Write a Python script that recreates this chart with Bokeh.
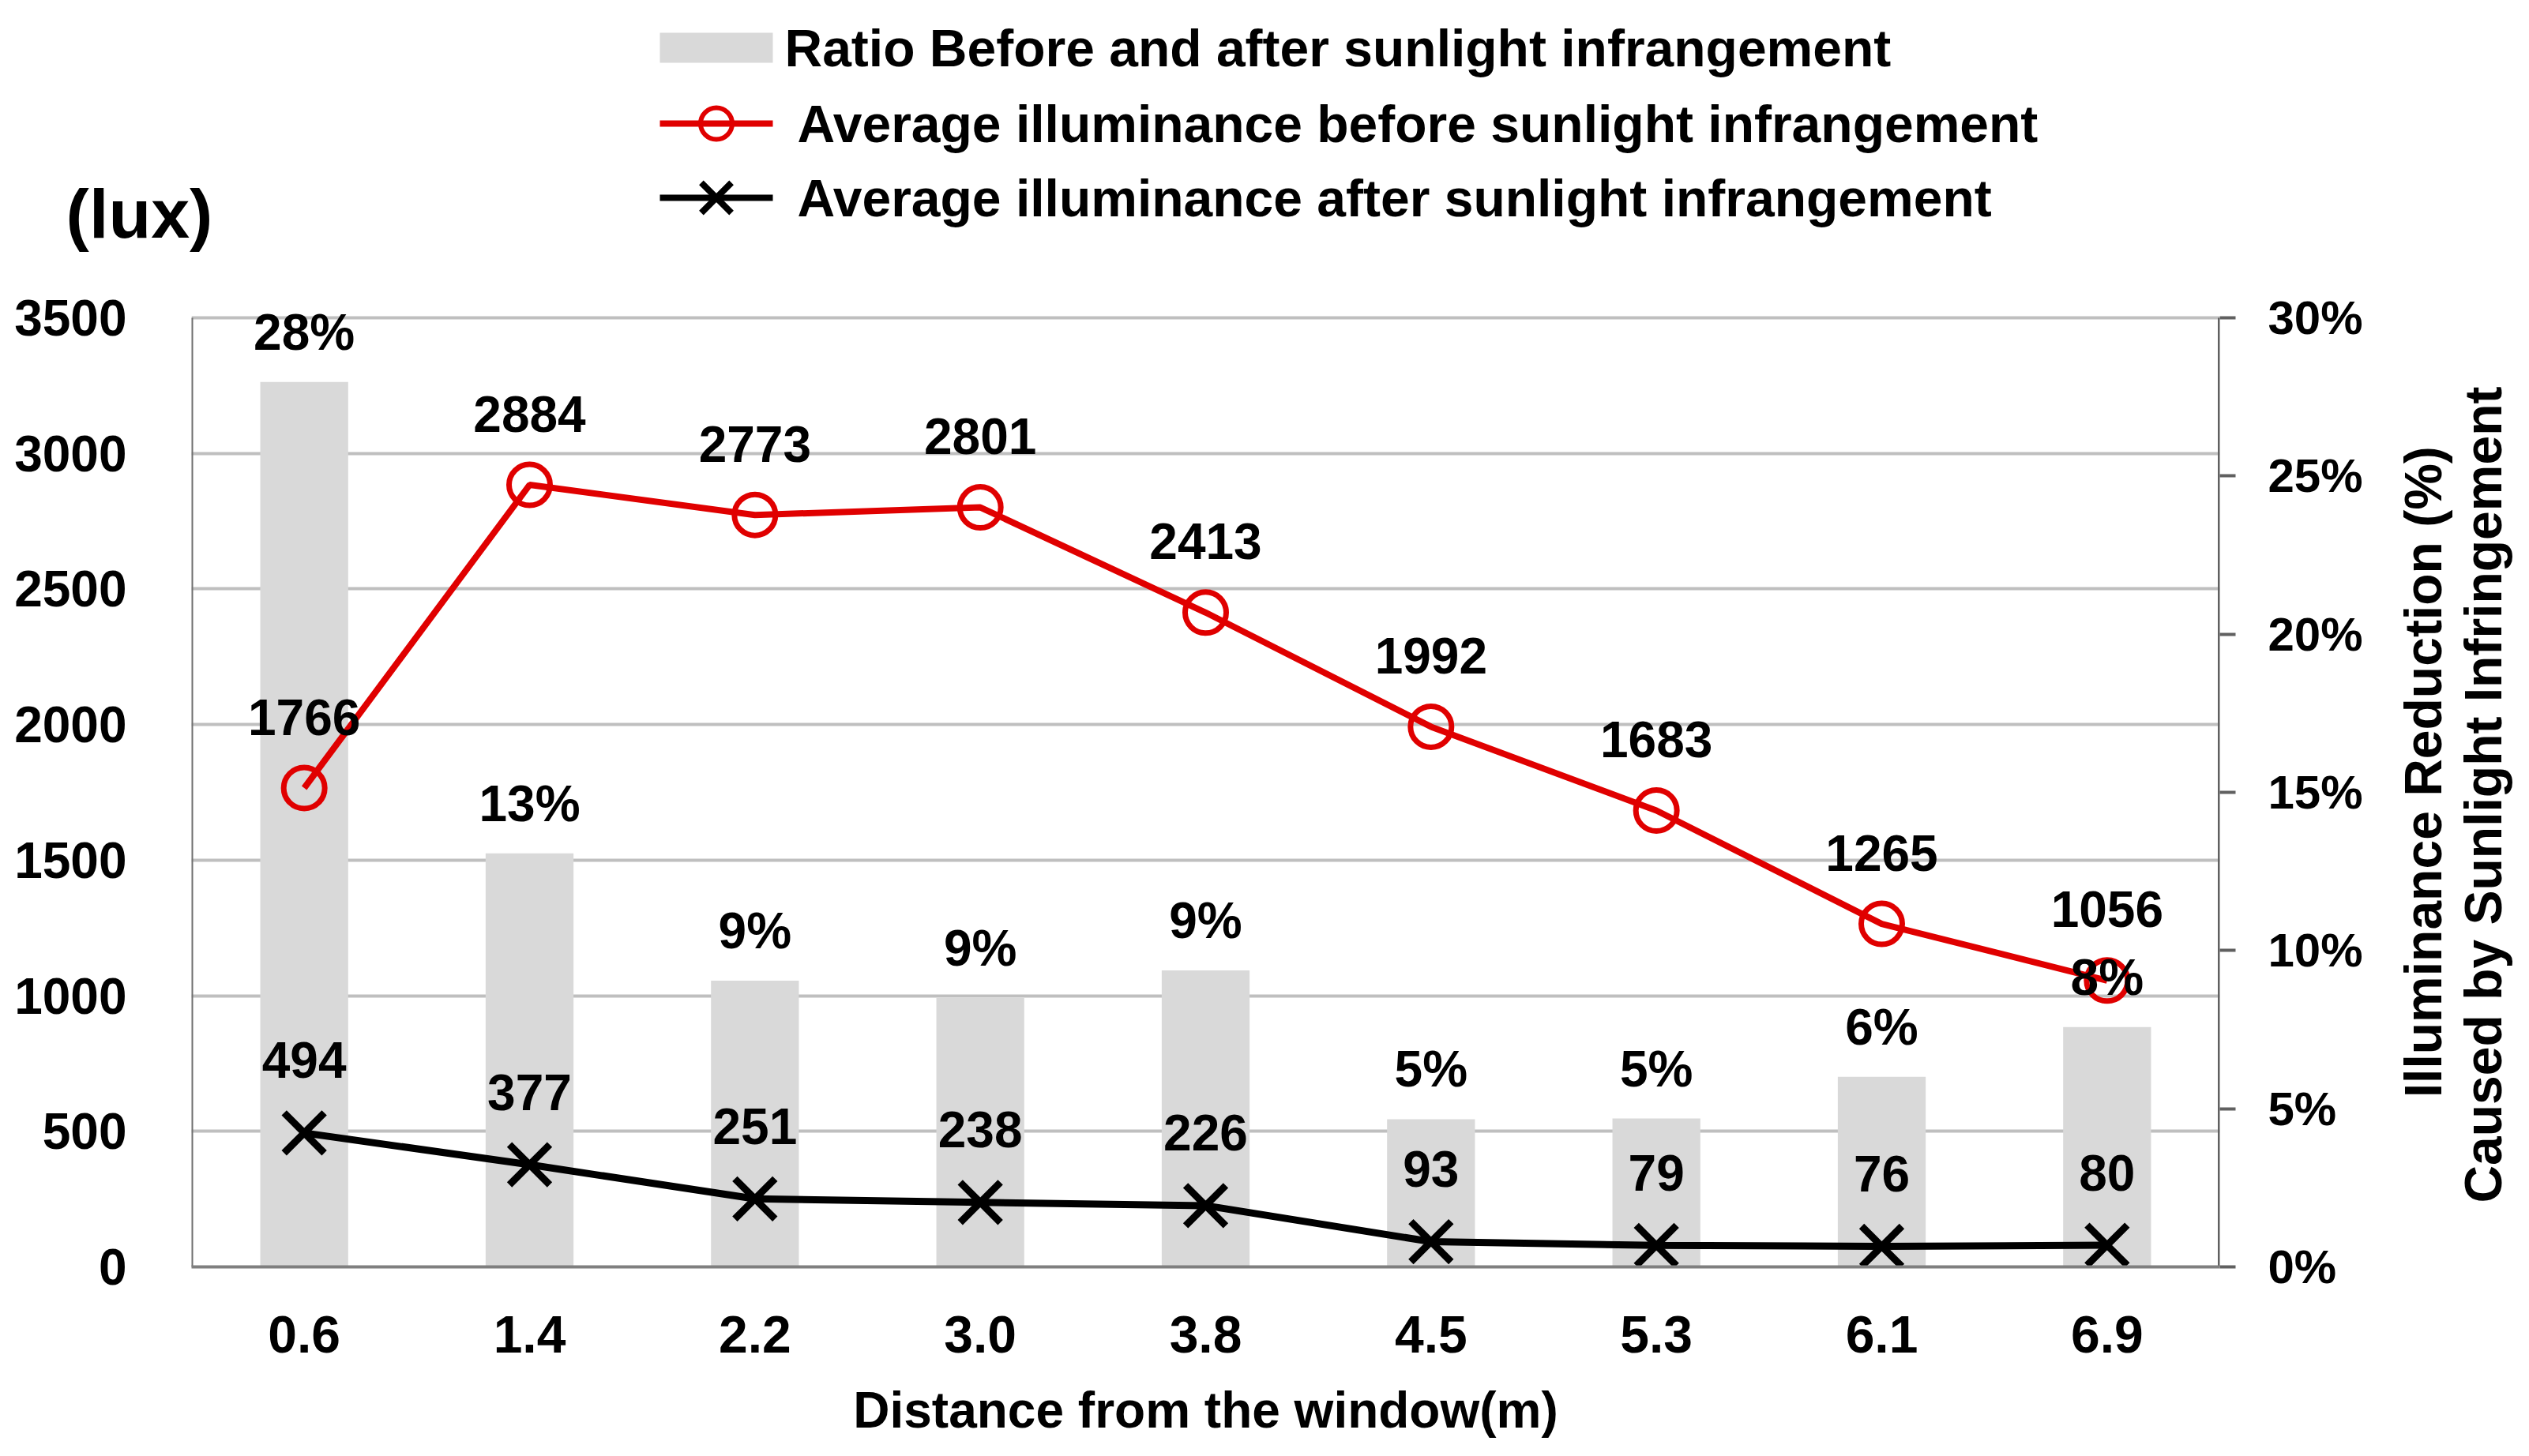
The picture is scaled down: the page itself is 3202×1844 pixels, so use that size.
import math
from bokeh.plotting import figure
from bokeh.models import (Range1d, LinearAxis, SingleIntervalTicker, FixedTicker,
                          NumeralTickFormatter, ColumnDataSource, LabelSet, FactorRange)
from bokeh.layouts import column, row
from bokeh.core.properties import value
from bokeh.embed import file_html
from bokeh.resources import INLINE

# ---------------- data ----------------
distances = ["0.6", "1.4", "2.2", "3.0", "3.8", "4.5", "5.3", "6.1", "6.9"]
before_lux = [1766, 2884, 2773, 2801, 2413, 1992, 1683, 1265, 1056]
after_lux = [494, 377, 251, 238, 226, 93, 79, 76, 80]
ratio = [0.2797, 0.1307, 0.0905, 0.0850, 0.0937, 0.0467, 0.0469, 0.0601, 0.0758]
ratio_labels = ["28%", "13%", "9%", "9%", "9%", "5%", "5%", "6%", "8%"]
legend_labels = ["Ratio Before and after sunlight infrangement",
                 "Average illuminance before sunlight infrangement",
                 "Average illuminance after sunlight infrangement"]
y_unit = "(lux)"
x_title = "Distance from the window(m)"
y2_title = ["Illuminance Reduction (%)", "Caused by Sunlight Infringement"]
y_max, y_step = 3500, 500
pct_max = 0.30
pct_ticks = [0, 0.05, 0.10, 0.15, 0.20, 0.25, 0.30]

FONT = "Liberation Sans"
RED = "#e00000"
BAR = "#d9d9d9"
W = 3186
TOP_H = 322
EXTRA = 40                      # frame headroom above the 3500 gridline (px)
PLOT_H = 1202                   # height from 0 to 3500
FRAME_H = PLOT_H + EXTRA
MAIN_H = 40 + FRAME_H + 224
MAIN_W = 3010

def blank(width, height):
    f = figure(width=width, height=height, x_range=Range1d(0, width), y_range=Range1d(0, height),
               min_border=0, output_backend="svg", toolbar_location=None,
               outline_line_color=None)
    f.axis.visible = False
    f.grid.visible = False
    return f

txt_kw = dict(text_font=value(FONT), text_font_style="bold", text_color="black")

# ---------------- top strip: legend + unit ----------------
top = blank(W, TOP_H)
def ty(cy):
    return TOP_H - cy
rows_y = [60, 156, 250]
gx0, gx1 = 835, 978
top.quad(left=[gx0], right=[gx1], top=[ty(rows_y[0] - 19)], bottom=[ty(rows_y[0] + 19)],
         fill_color=BAR, line_color=None)
top.line(x=[gx0, gx1], y=[ty(rows_y[1])] * 2, line_color=RED, line_width=8)
top.scatter(x=[(gx0 + gx1) / 2], y=[ty(rows_y[1])], marker="circle", size=40,
            line_color=RED, line_width=6, fill_color=None)
top.line(x=[gx0, gx1], y=[ty(rows_y[2])] * 2, line_color="black", line_width=8)
top.scatter(x=[(gx0 + gx1) / 2], y=[ty(rows_y[2])], marker="x", size=54,
            line_color="black", line_width=8)
top.text(x=[993, 1009, 1009], y=[ty(v) for v in rows_y], text=legend_labels,
         text_font_size="66px", text_align="left", text_baseline="middle", **txt_kw)
top.text(x=[176], y=[ty(270)], text=[y_unit], text_font_size="88px",
         text_align="center", text_baseline="middle", **txt_kw)

# ---------------- main chart ----------------
src = ColumnDataSource(dict(
    x=distances, before=before_lux, after=after_lux,
    before_txt=[str(v) for v in before_lux], after_txt=[str(v) for v in after_lux],
    ratio=ratio, ratio_txt=ratio_labels,
))

p = figure(x_range=FactorRange(*distances),
           y_range=Range1d(0, y_max * FRAME_H / PLOT_H),
           frame_width=2568, frame_height=FRAME_H,
           min_border_left=242, min_border_right=200, min_border_top=40, min_border_bottom=224,
           output_backend="svg", toolbar_location=None, outline_line_color=None)
p.extra_y_ranges = {"pct": Range1d(0, pct_max * FRAME_H / PLOT_H)}

p.vbar(x="x", top="ratio", width=0.39, source=src, y_range_name="pct",
       fill_color=BAR, line_color=None)

ax_col = "#7f7f7f"
n = len(distances)
# axis lines limited to the 0..3500 span
p.segment(x0=[0], x1=[0], y0=[0], y1=[y_max], line_color="#6f6f6f", line_width=4)
p.segment(x0=[n], x1=[n], y0=[0], y1=[y_max], line_color="#606060", line_width=5)

p.line(x="x", y="before", source=src, line_color=RED, line_width=8)
p.scatter(x="x", y="before", source=src, marker="circle", size=52,
          line_color=RED, line_width=7, fill_color=None)
p.line(x="x", y="after", source=src, line_color="black", line_width=9)
p.scatter(x="x", y="after", source=src, marker="x", size=72,
          line_color="black", line_width=9)

lab_kw = dict(text_font=value(FONT), text_font_style="bold", text_font_size="64px",
              text_align="center", text_baseline="middle", text_color="black")
p.add_layout(LabelSet(x="x", y="ratio", text="ratio_txt", y_range_name="pct",
                      y_offset=63, source=src, **lab_kw))
p.add_layout(LabelSet(x="x", y="before", text="before_txt", y_offset=90, source=src, **lab_kw))
p.add_layout(LabelSet(x="x", y="after", text="after_txt", y_offset=92, source=src, **lab_kw))

yl = p.yaxis[0]
yl.ticker = SingleIntervalTicker(interval=y_step)
yl.axis_line_color = None
yl.major_tick_line_color = None
yl.minor_tick_line_color = None
yl.major_label_standoff = 76
yl.major_label_text_font = FONT
yl.major_label_text_font_style = "bold"
yl.major_label_text_font_size = "64px"
yl.major_label_text_color = "black"

xa = p.xaxis[0]
xa.axis_line_color = ax_col
xa.axis_line_width = 4
xa.major_tick_line_color = None
xa.minor_tick_line_color = None
xa.major_label_standoff = 56
xa.major_label_text_font = FONT
xa.major_label_text_font_style = "bold"
xa.major_label_text_font_size = "66px"
xa.major_label_text_color = "black"
xa.axis_label = x_title
xa.axis_label_text_font = FONT
xa.axis_label_text_font_style = "bold"
xa.axis_label_text_font_size = "64px"
xa.axis_label_text_color = "black"
xa.axis_label_standoff = 34

yr = LinearAxis(y_range_name="pct", ticker=FixedTicker(ticks=pct_ticks),
                formatter=NumeralTickFormatter(format="0%"))
yr.axis_line_color = None
yr.major_tick_line_color = "#606060"
yr.major_tick_line_width = 4
yr.major_tick_out = 20
yr.major_tick_in = 0
yr.minor_tick_line_color = None
yr.major_label_standoff = 41
yr.major_label_text_font = FONT
yr.major_label_text_font_style = "bold"
yr.major_label_text_font_size = "60px"
yr.major_label_text_color = "black"
p.add_layout(yr, "right")

p.xgrid.grid_line_color = None
p.ygrid.grid_line_color = "#bfbfbf"
p.ygrid.grid_line_width = 4
p.ygrid.ticker = yl.ticker

# ---------------- right strip: secondary axis title ----------------
RW = W - MAIN_W
side = blank(RW, MAIN_H)
def sy(cy):
    return MAIN_H - (cy - TOP_H)
side.text(x=[57, 133], y=[sy(1068), sy(1103)], text=y2_title, angle=math.pi / 2,
          text_font_size="66px", text_align="center", text_baseline="middle", **txt_kw)

layout = column(top, row(p, side, spacing=0), spacing=0)
open("out.html", "w").write(file_html(layout, INLINE))
